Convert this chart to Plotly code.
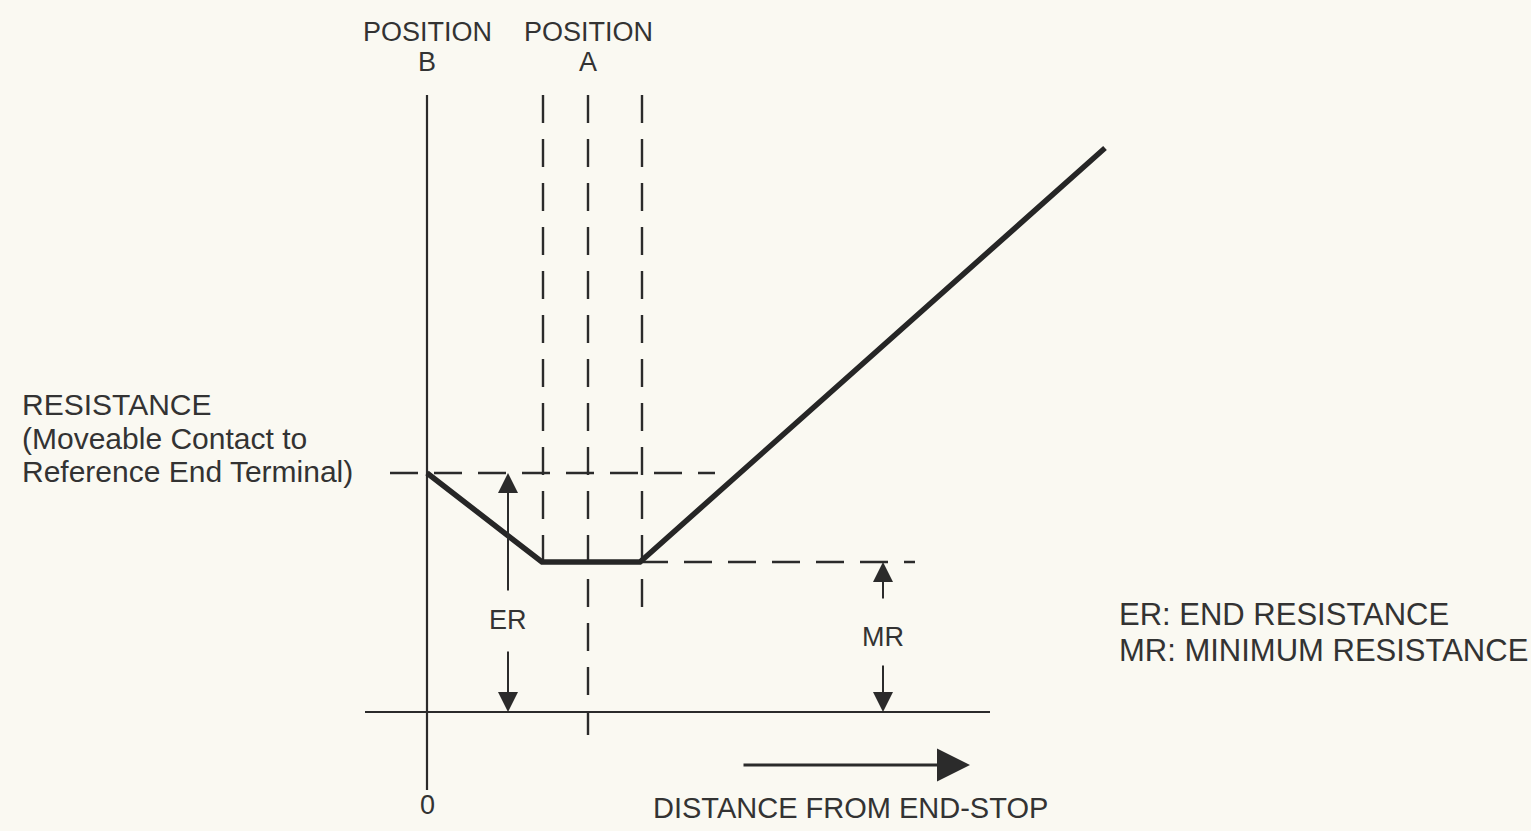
import plotly.graph_objects as go

# ---- data (arbitrary units: distance from end-stop, resistance) ----
curve_x = [0.0, 11.5, 21.3, 67.8]
curve_y = [23.9, 15.0, 15.0, 56.4]

er_level = 23.9
mr_level = 15.0

pos_b_x = 0.0
pos_a_x = 16.1
flat_left_x = 11.6
flat_right_x = 21.5

dash_top = 61.7
dash_bottoms = [14.6, -2.3, 9.9]      # left, A, right
axis_x_range = [-6.2, 56.3]
axis_y_range = [-7.8, 61.7]
er_dash_x = [-3.7, 28.8]
mr_dash_x = [21.3, 48.8]

er_arrow_x = 8.1
mr_arrow_x = 45.6
dir_arrow_x = [31.5, 54.3]
dir_arrow_y = -5.3

left_labels = ["RESISTANCE", "(Moveable Contact to", "Reference End Terminal)"]
legend_labels = ["ER: END RESISTANCE", "MR: MINIMUM RESISTANCE"]

INK = "#2b2b2b"
TXT = "#333333"
BG = "#faf9f2"
FONT = "Liberation Sans, Arial, sans-serif"

fig = go.Figure()

def line(xs, ys, width=2, dash=None, color=INK):
    fig.add_trace(go.Scatter(x=xs, y=ys, mode="lines",
                             line=dict(color=color, width=width, dash=dash),
                             hoverinfo="skip", showlegend=False))

# axes
line([pos_b_x, pos_b_x], axis_y_range, width=2.2)
line(axis_x_range, [0, 0], width=2.2)

# dashed verticals
DASH = "28px,16px"
for xv, yb in zip([flat_left_x, pos_a_x, flat_right_x], dash_bottoms):
    line([xv, xv], [dash_top, yb], width=2.4, dash=DASH)

# dashed horizontals
line(er_dash_x, [er_level, er_level], width=2.4, dash=DASH)
line(mr_dash_x, [mr_level, mr_level], width=2.4, dash=DASH)

# resistance curve
line(curve_x, curve_y, width=5.5, color="#262626")

ann = []

def arrow(x, y, ax, ay, width=2, size=2.0, head=2):
    ann.append(dict(x=x, y=y, ax=ax, ay=ay, xref="x", yref="y", axref="x", ayref="y",
                    showarrow=True, arrowhead=head, arrowsize=size, arrowwidth=width,
                    arrowcolor=INK, text=""))

# ER dimension arrows
arrow(er_arrow_x, er_level, er_arrow_x, 12.0)
arrow(er_arrow_x, 0.0, er_arrow_x, 6.2)
# MR dimension arrows
arrow(mr_arrow_x, mr_level, mr_arrow_x, 11.2)
arrow(mr_arrow_x, 0.0, mr_arrow_x, 4.8)
# direction arrow
arrow(dir_arrow_x[1], dir_arrow_y, dir_arrow_x[0], dir_arrow_y, width=3, size=2.2)

def text(x, y, s, size=28, xanchor="center"):
    ann.append(dict(x=x, y=y, xref="x", yref="y", text=s, showarrow=False,
                    xanchor=xanchor, yanchor="middle",
                    font=dict(family=FONT, size=size, color=TXT)))

text(pos_b_x, 68.0, "POSITION", 27)
text(pos_b_x, 65.0, "B", 27)
text(pos_a_x, 68.0, "POSITION", 27)
text(pos_a_x, 65.0, "A", 27)
text(er_arrow_x, 9.2, "ER", 27)
text(mr_arrow_x, 7.5, "MR", 27)
text(pos_b_x, -9.3, "0", 27)
text(42.3, -9.6, "DISTANCE FROM END-STOP", 29)

for s, yv in zip(left_labels, [30.8, 27.4, 24.1]):
    text(-40.7, yv, s, 30, xanchor="left")
for s, yv in zip(legend_labels, [9.8, 6.2]):
    text(69.0, yv, s, 31, xanchor="left")

fig.update_layout(
    width=1531, height=831,
    margin=dict(l=0, r=0, t=0, b=0),
    paper_bgcolor=BG, plot_bgcolor=BG,
    xaxis=dict(range=[-42.7, 110.4], visible=False, fixedrange=True),
    yaxis=dict(range=[-11.9, 71.2], visible=False, fixedrange=True),
    annotations=ann,
    hovermode=False,
)

fig.write_html("out.html", config={"displayModeBar": False},
               post_script="document.body.style.margin='0px';document.body.style.background='#faf9f2';")
